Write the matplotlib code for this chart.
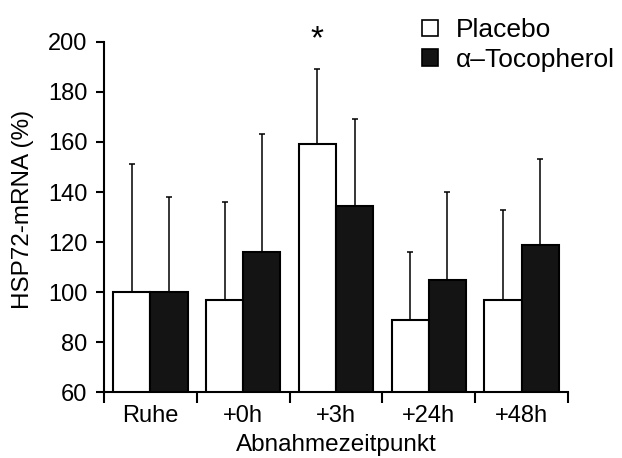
import numpy as np
import matplotlib.pyplot as plt
from matplotlib.patches import Patch

plt.rcParams['font.family'] = ['Liberation Sans', 'DejaVu Sans']

categories = ['Ruhe', '+0h', '+3h', '+24h', '+48h']
placebo = [100, 97, 159, 89, 97]
placebo_err_top = [151, 136, 189, 116, 133]
toco = [100, 116, 134.5, 105, 119]
toco_err_top = [138, 163, 169, 140, 153]

x = np.arange(len(categories))
w = 0.4

fig = plt.figure(figsize=(6.22, 4.58), dpi=100)
ax = fig.add_axes([0.1672, 0.1441, 0.746, 0.7642])

pl_err = np.array(placebo_err_top) - np.array(placebo)
to_err = np.array(toco_err_top) - np.array(toco)

ax.bar(x - w / 2, placebo, w, color='white', edgecolor='black', linewidth=1.5, zorder=2)
ax.bar(x + w / 2, toco, w, color='#141414', edgecolor='black', linewidth=1.5, zorder=2)
ax.errorbar(x - w / 2, placebo, yerr=[np.zeros(5), pl_err], fmt='none', ecolor='black',
            elinewidth=1.1, capsize=2, capthick=1.1, zorder=1)
ax.errorbar(x + w / 2, toco, yerr=[np.zeros(5), to_err], fmt='none', ecolor='black',
            elinewidth=1.1, capsize=2, capthick=1.1, zorder=1)

ax.set_ylim(60, 200)
ax.set_xlim(-0.5, 4.5)
ax.set_yticks(np.arange(60, 201, 20))
ax.set_xticks(x)
ax.set_xticklabels(categories)
ax.set_xticks(np.arange(-0.5, 4.6, 1), minor=True)
ax.tick_params(axis='x', which='major', length=0, pad=9, labelsize=17)
ax.tick_params(axis='x', which='minor', length=8, width=1.5)
ax.tick_params(axis='y', length=6, width=1.5, pad=6, labelsize=17)

for s in ['top', 'right']:
    ax.spines[s].set_visible(False)
for s in ['left', 'bottom']:
    ax.spines[s].set_linewidth(1.5)

ax.set_ylabel('HSP72-mRNA (%)', fontsize=17.5, va='center')
ax.yaxis.set_label_coords(-0.175, 0.523)
ax.set_xlabel('Abnahmezeitpunkt', fontsize=17.5, va='baseline')
ax.xaxis.set_label_coords(0.5, -0.168)

ax.text(x[2] - w / 2, 201, '*', ha='center', va='center', fontsize=24, clip_on=False)

handles = [Patch(facecolor='white', edgecolor='black', linewidth=1.2),
           Patch(facecolor='#141414', edgecolor='black', linewidth=1.2)]
fig.legend(handles, ['Placebo', 'α–Tocopherol'], loc='upper left',
           bbox_to_anchor=(0.64, 1.012), frameon=False, fontsize=19,
           handlelength=0.6, handleheight=0.6, handletextpad=0.7, labelspacing=0.2)

fig.savefig('out.png', dpi=100)
